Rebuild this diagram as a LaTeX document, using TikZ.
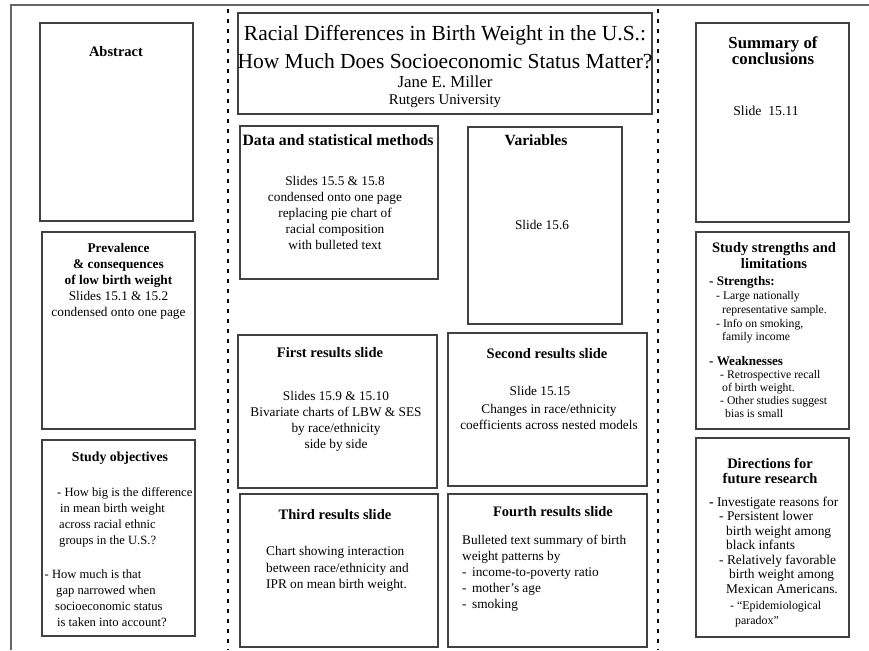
\documentclass[tikz,border=0pt]{standalone}
\usepackage{fontspec}
\setmainfont{Liberation Serif}
\usetikzlibrary{fit}

\tikzset{
  panel/.style={draw=black!75, line width=1.3pt, inner sep=0pt},
  head/.style={font=\bfseries\fontsize{14.5}{16}\selectfont, align=center, inner sep=0pt, anchor=north},
  body/.style={font=\fontsize{13.3}{16}\selectfont, align=center, inner sep=0pt, anchor=north},
  list/.style={font=\fontsize{13.3}{16}\selectfont, align=left, inner sep=0pt, anchor=north west},
  smalllist/.style={font=\fontsize{11.7}{13.8}\selectfont, align=left, inner sep=0pt, anchor=north west},
  sepline/.style={line width=1.1pt, dash pattern=on 4pt off 6pt},
  frameline/.style={draw=black!60, line width=1.3pt}
}

\begin{document}
\begin{tikzpicture}[x=1pt, y=-1pt]
\useasboundingbox (0,0) rectangle (869,650);

% page frame and column separators
\draw[frameline] (869,5) -- (11,5) -- (11,650);
\coordinate (sepLtop) at (228,9);
\coordinate (sepLbot) at (228,650);
\coordinate (sepRtop) at (658,9);
\coordinate (sepRbot) at (658,650);
\draw[sepline] (sepLtop) -- (sepLbot);
\draw[sepline] (sepRtop) -- (sepRbot);

% left column
\node[panel, fit={(40,23) (193,221)}] (abstract) {};
\node[panel, fit={(42,232) (195,429)}] (prevalence) {};
\node[panel, fit={(42,440) (195,636)}] (objectives) {};
\node[head] (abstractT) at (116,46) {Abstract};
\node[body] (prevalenceT) at (118.5,243.5) {\textbf{Prevalence}\\\textbf{\& consequences}\\\textbf{of low birth weight}\\Slides 15.1 \& 15.2\\condensed onto one page};
\node[head, font=\bfseries\fontsize{13.8}{16}\selectfont] (objectivesT) at (120,452) {Study objectives};
\node[list, font=\fontsize{12.6}{16}\selectfont] (objectivesL) at (43,487.7) {\hspace*{14pt}- How big is the difference\\
  \hspace*{17pt}in mean birth weight\\
  \hspace*{16pt}across racial ethnic\\
  \hspace*{16pt}groups in the U.S.?\\[18pt]
  \hspace*{1.5pt}- How much is that\\
  \hspace*{13pt}gap narrowed when\\
  \hspace*{12pt}socioeconomic status\\
  \hspace*{14pt}is taken into account?};

% middle column
\node[panel, fit={(238,13) (652,114)}] (titlebox) {};
\node[body, font=\fontsize{21.5}{28}\selectfont] (title) at (445,24.7) {Racial Differences in Birth Weight in the U.S.:\\How Much Does Socioeconomic Status Matter?};
\node[body, font=\fontsize{16.8}{20}\selectfont] (author) at (445,75.3) {Jane E. Miller};
\node[body, font=\fontsize{14.8}{18}\selectfont] (affil) at (445,95) {Rutgers University};

\node[panel, fit={(240,126) (438,279)}] (data) {};
\node[head, font=\bfseries\fontsize{15.8}{18}\selectfont] (dataT) at (338,134.6) {Data and statistical methods};
\node[body] (dataL) at (335,176.5) {Slides 15.5 \& 15.8\\condensed onto one page\\replacing pie chart of\\racial composition\\with bulleted text};

\node[panel, fit={(468,127) (622,324)}] (vars) {};
\node[head, font=\bfseries\fontsize{15.6}{18}\selectfont] (varsT) at (536,134.7) {Variables};
\node[body] (varsL) at (542,220.5) {Slide 15.6};

\node[panel, fit={(238,335) (437,488)}] (first) {};
\node[head] (firstT) at (330,347) {First results slide};
\node[body] (firstL) at (336,391.5) {Slides 15.9 \& 15.10\\Bivariate charts of LBW \& SES\\by race/ethnicity\\side by side};

\node[panel, fit={(448,333) (647,486)}] (second) {};
\node[head] (secondT) at (547,348) {Second results slide};
\node[body] (secondL) at (549,386.5) {Slide 15.15\hspace*{18pt}\\[2pt]Changes in race/ethnicity\\coefficients across nested models};

\node[panel, fit={(240,494) (438,647)}] (third) {};
\node[head] (thirdT) at (335,509) {Third results slide};
\node[list, font=\fontsize{13.3}{16.5}\selectfont] (thirdL) at (266,546.5) {Chart showing interaction\\between race/ethnicity and\\IPR on mean birth weight.};

\node[panel, fit={(448,494) (647,647)}] (fourth) {};
\node[head] (fourthT) at (553,506) {Fourth results slide};
\node[list] (fourthL) at (462,534.5) {Bulleted text summary of birth\\weight patterns by\\-\hspace*{5.5pt}income-to-poverty ratio\\-\hspace*{5.5pt}mother’s age\\-\hspace*{5.5pt}smoking};

% right column
\node[panel, fit={(696,23) (849,222)}] (summary) {};
\node[head, font=\bfseries\fontsize{16.8}{16.5}\selectfont] (summaryT) at (773,36.3) {Summary of\\conclusions};
\node[body, font=\fontsize{13.7}{16}\selectfont] (summaryL) at (766,105.5) {Slide\ \ 15.11};

\node[panel, fit={(696,232) (849,429)}] (strengths) {};
\node[head] (strengthsT) at (774,242) {Study strengths and\\limitations};
\node[smalllist] (strongL) at (709,276.5) {{\bfseries\fontsize{13.1}{13.8}\selectfont - Strengths:}\\
  \hspace*{7pt}- Large nationally\\
  \hspace*{13pt}representative sample.\\
  \hspace*{7pt}- Info on smoking,\\
  \hspace*{13pt}family income};
\node[smalllist, font=\fontsize{11.7}{13}\selectfont] (weakL) at (709,356.5) {{\bfseries\fontsize{13.1}{13}\selectfont - Weaknesses}\\
  \hspace*{11pt}- Retrospective recall\\
  \hspace*{13pt}of birth weight.\\
  \hspace*{11pt}- Other studies suggest\\
  \hspace*{16pt}bias is small};

\node[panel, fit={(696,438) (849,637)}] (directions) {};
\node[head, font=\bfseries\fontsize{14.5}{15}\selectfont] (directionsT) at (770,458) {Directions for\\future research};
\node[list, font=\fontsize{13.4}{14.5}\selectfont] (directionsL) at (709,496.4) {\textbf{-} Investigate reasons for\\
  \hspace*{10pt}- Persistent lower\\
  \hspace*{17pt}birth weight among\\
  \hspace*{17pt}black infants\\
  \hspace*{10pt}- Relatively favorable\\
  \hspace*{20pt}birth weight among\\
  \hspace*{17pt}Mexican Americans.\\[2pt]
  \hspace*{21pt}{\fontsize{11.9}{13}\selectfont - “Epidemiological}\\
  \hspace*{26pt}{\fontsize{11.9}{13}\selectfont paradox”}};
\end{tikzpicture}
\end{document}
